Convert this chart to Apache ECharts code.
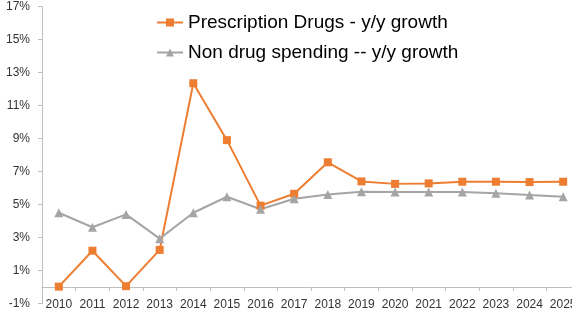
<!DOCTYPE html>
<html><head><meta charset="utf-8">
<script src="https://cdn.jsdelivr.net/npm/echarts@6/dist/echarts.min.js"></script>
<style>html,body{margin:0;padding:0;background:#fff}#c{width:572px;height:321px}</style>
</head><body><div id="c"></div>
<script>
var years = ['2010','2011','2012','2013','2014','2015','2016','2017','2018','2019','2020','2021','2022','2023','2024','2025'];
var rxGrowth = [0.02, 2.2, 0.05, 2.25, 12.35, 8.9, 4.93, 5.65, 7.56, 6.4, 6.25, 6.28, 6.38, 6.38, 6.36, 6.38];
var nonDrugGrowth = [4.5, 3.62, 4.4, 2.93, 4.5, 5.47, 4.71, 5.35, 5.6, 5.78, 5.76, 5.76, 5.76, 5.68, 5.58, 5.47];
var seriesNames = ['Prescription Drugs - y/y growth', 'Non drug spending -- y/y growth'];
var yMin = -1, yMax = 17, yStep = 2;

var chart = echarts.init(document.getElementById('c'));
var font = 'Liberation Sans';
chart.setOption({
  animation: false,
  textStyle: {fontFamily: font},
  grid: {left: 42, right: -8, top: 6.5, bottom: 17.5, containLabel: false, outerBoundsMode: 'none'},
  legend: {
    orient: 'vertical', left: 156, top: 13, itemGap: 11, padding: 0,
    itemWidth: 26, itemHeight: 10,
    textStyle: {fontSize: 19, color: '#000', fontFamily: font},
    data: seriesNames
  },
  xAxis: {
    type: 'category', data: years, boundaryGap: true, position: 'bottom', offset: 0,
    axisLine: {onZero: false, lineStyle: {color: '#BFBFBF', width: 1}},
    axisTick: {show: true, length: 4, lineStyle: {color: '#BFBFBF'}},
    axisLabel: {color: '#333333', fontSize: 12, margin: 12, interval: 0}
  },
  yAxis: {
    type: 'value', min: yMin, max: yMax, interval: yStep,
    splitLine: {show: false},
    axisLine: {show: true, onZero: false, lineStyle: {color: '#BFBFBF'}},
    axisTick: {show: true, length: 4, lineStyle: {color: '#BFBFBF'}},
    axisLabel: {color: '#333333', fontSize: 12, margin: 12, formatter: function(v){return v + '%';}}
  },
  series: [
    {name: seriesNames[0], type: 'line', data: rxGrowth, symbol: 'rect', symbolSize: 8,
     lineStyle: {color: '#ED7D31', width: 2}, itemStyle: {color: '#ED7D31'}},
    {name: seriesNames[1], type: 'line', data: nonDrugGrowth, symbol: 'triangle', symbolSize: 9,
     lineStyle: {color: '#A5A5A5', width: 2}, itemStyle: {color: '#A5A5A5'}}
  ]
});
// Place the category axis line at value 0 (the axis crosses at zero in the original)
var pBottom = chart.convertToPixel({yAxisIndex: 0}, yMin);
var pZero = chart.convertToPixel({yAxisIndex: 0}, 0);
chart.setOption({xAxis: {offset: -(pBottom - pZero)}});
</script></body></html>
